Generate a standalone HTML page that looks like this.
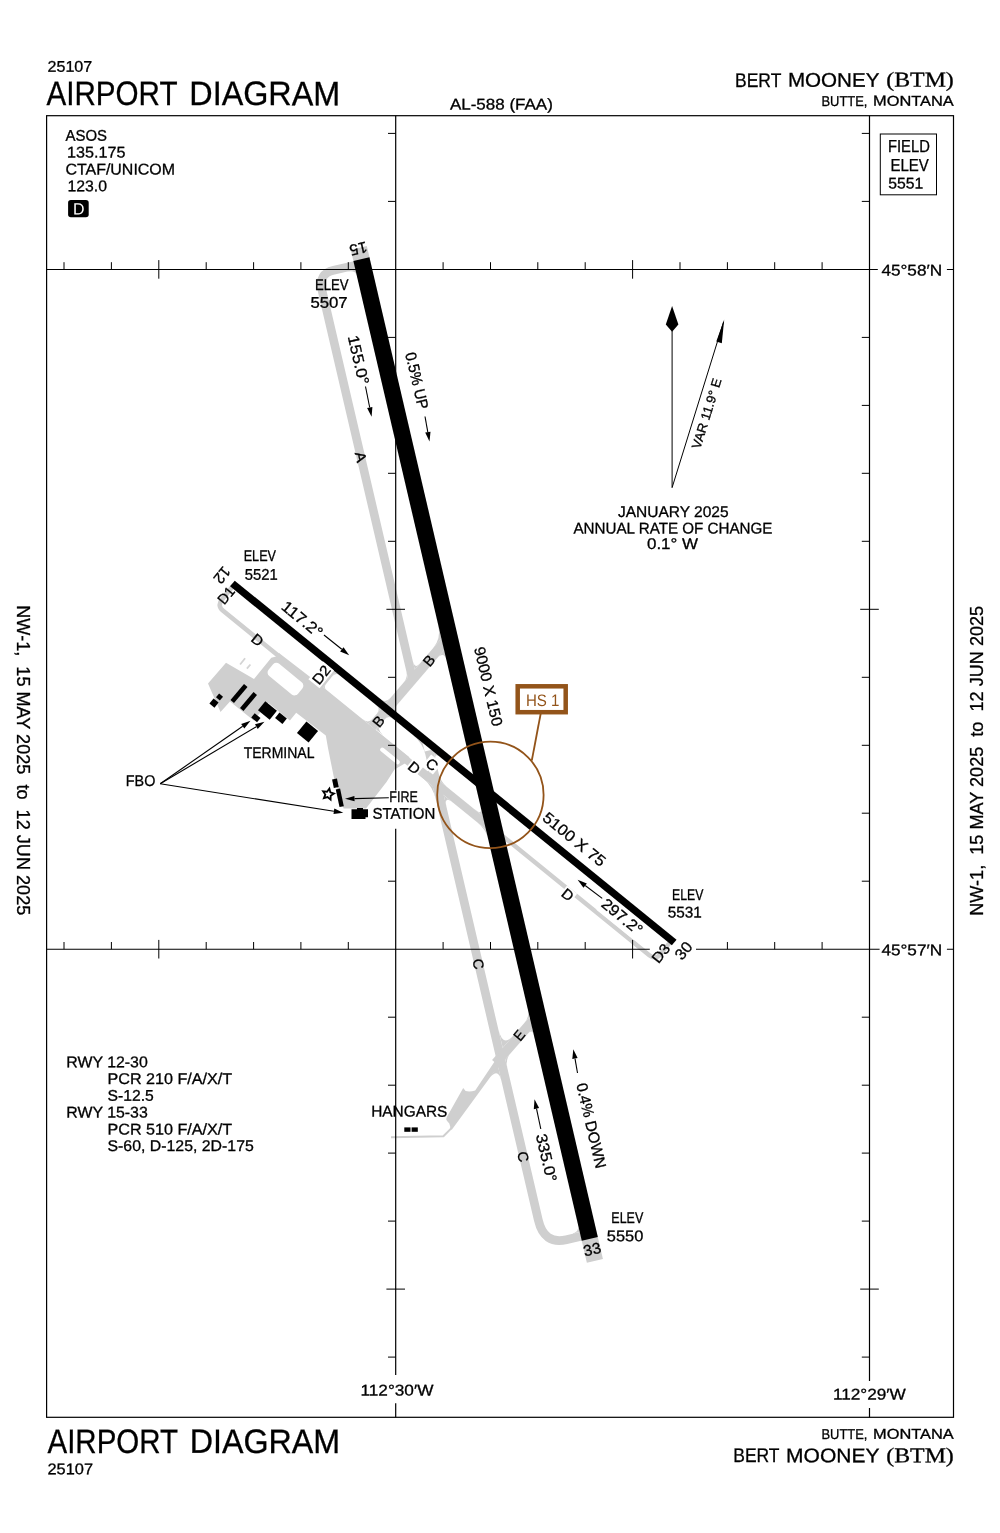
<!DOCTYPE html>
<html><head><meta charset="utf-8"><title>Airport Diagram - Bert Mooney (BTM)</title>
<style>html,body{margin:0;padding:0;background:#fff}svg{display:block;will-change:transform}svg text{font-family:"Liberation Sans",sans-serif}svg text.serif{font-family:"Liberation Serif",serif}</style></head>
<body>
<svg width="1000" height="1533" viewBox="0 0 1000 1533" >
<rect width="1000" height="1533" fill="#fff"/>
<g id="pavement" fill="none" stroke="#cfcfcf" stroke-linecap="butt" stroke-linejoin="round">
<path d="M358.8 247.9 L361.9 261.0" stroke-width="16.5"/>
<path d="M589.3 1236.9 L594.9 1260.9" stroke-width="16.5"/>
<path d="M362.4 263.6 L333.7 270.3 Q318.1 273.9 321.8 289.5 L412.8 679.9" stroke-width="8.6"/>
<path d="M428.9 750.6 L538.3 1220.0 Q544.1 1244.9 566.3 1239.7 L588.7 1234.5" stroke-width="8.7"/>
<path d="M444.8 641.9 L371.9 726.9" stroke-width="9.6"/>
<path d="M234.0 584.8 L222.0 599.5 Q216.9 605.7 223.1 610.8 L279.0 656.2" stroke-width="4.6"/>
<path d="M370.4 730.8 L428.6 778.1" stroke-width="7.4"/>
<path d="M418.8 769.5 L498.0 833.8" stroke-width="8.4"/>
<path d="M480.1 817.8 L649.3 955.2 Q655.5 960.3 660.5 954.1 L671.6 940.4" stroke-width="4.4"/>
<path d="M335.6 667.4 L318.0 689.1" stroke-width="6.0"/>
<path d="M532.5 1021.0 L495.7 1063.1" stroke-width="9.6"/>
</g>
<g id="pavefill" fill="#cfcfcf" stroke="none">
<polygon points="226.0,662.7 254.0,679.0 271.3,657.7 276.1,656.6 279.0,653.0 318.6,683.6 409.4,757.3 405.2,763.3 394.5,769.5 386.5,782.0 366.0,808.5 343.6,808.5 334.0,778.0 328.0,748.0 325.8,735.5 296.2,712.7 289.9,720.4 268.2,702.8 253.7,720.6 230.0,701.6 220.5,712.1 208.0,683.6"/>
<path d="M438.2 624.9 Q441.4 638.5 432.9 648.4 L441.4 638.5 Z"/>
<path d="M446.6 660.8 Q444.1 650.1 436.3 659.2 L444.1 650.1 Z"/>
<path d="M412.7 660.8 Q414.8 669.5 420.0 663.5 L414.8 669.5 Z"/>
<path d="M406.5 671.8 Q407.8 677.6 403.9 682.2 L407.8 677.6 Z"/>
<path d="M380.3 698.9 Q385.7 703.3 390.3 698.0 L385.7 703.3 Z"/>
<path d="M397.9 713.2 Q393.2 709.4 397.1 704.9 L393.2 709.4 Z"/>
<path d="M376.3 705.2 Q380.9 709.0 377.0 713.5 L380.9 709.0 Z"/>
<path d="M393.0 718.8 Q388.4 715.0 384.5 719.6 L388.4 715.0 Z"/>
<path d="M362.0 718.8 Q368.2 723.8 372.1 719.3 L368.2 723.8 Z"/>
<path d="M383.1 735.0 Q376.1 729.4 380.6 724.1 L376.1 729.4 Z"/>
<path d="M327.1 665.2 Q330.9 668.3 327.2 673.0 L330.9 668.3 Z"/>
<path d="M339.5 675.3 Q335.6 672.1 331.8 676.8 L335.6 672.1 Z"/>
<path d="M315.5 681.0 Q318.6 683.6 321.7 679.7 L318.6 683.6 Z"/>
<path d="M326.3 689.9 Q323.2 687.3 326.4 683.5 L323.2 687.3 Z"/>
<path d="M412.6 734.7 Q422.7 742.9 425.4 754.6 L422.7 742.9 Z"/>
<path d="M440.7 757.5 Q433.7 751.8 435.7 760.6 L433.7 751.8 Z"/>
<path d="M423.8 769.5 Q430.0 774.5 428.2 766.7 L430.0 774.5 Z"/>
<path d="M446.9 786.9 Q440.7 781.9 438.9 774.1 L440.7 781.9 Z"/>
<path d="M423.5 778.7 Q432.8 786.3 436.0 799.9 L432.8 786.3 Z"/>
<path d="M453.1 802.8 Q443.8 795.2 446.5 806.9 L443.8 795.2 Z"/>
<path d="M480.7 807.3 Q482.7 816.1 474.2 809.1 L482.7 816.1 Z"/>
<path d="M487.9 838.2 Q485.9 829.4 477.3 822.5 L485.9 829.4 Z"/>
<path d="M527.8 1009.2 Q529.6 1017.0 524.3 1023.1 L529.6 1017.0 Z"/>
<path d="M533.9 1035.4 Q532.3 1028.5 527.7 1033.8 L532.3 1028.5 Z"/>
<path d="M498.4 1029.3 Q502.7 1047.8 513.2 1035.8 L502.7 1047.8 Z"/>
<path d="M507.4 1068.1 Q505.4 1059.3 510.0 1054.0 L505.4 1059.3 Z"/>
<path d="M501.6 1081.6 Q498.0 1066.0 488.1 1079.9 L498.0 1066.0 Z"/>
<path d="M356.7 275.5 Q355.4 269.6 346.6 271.7 L355.4 269.6 Z"/>
<path d="M578.1 1225.3 Q579.7 1232.1 571.0 1234.1 L579.7 1232.1 Z"/>
<path d="M501 1052 L475.2 1090.4 Q470 1092 465.6 1091 L463.2 1088 L446.600 1117.600 Q445.700 1119.400 446.900 1120.700 L449.300 1123.500 L450.300 1127 L449.800 1128.800 L451.800 1129.800 L494 1072 L504 1062 Z"/>
</g>
<path d="M451 1128.6 L443.400 1136.200 L391 1137.200" stroke="#cfcfcf" stroke-width="2" fill="none" stroke-linejoin="round"/>
<g fill="#fff">
<rect x="275.7" y="661.0" width="38.0" height="15.8" rx="4.5" transform="rotate(39.10 275.7 661.0)"/>
<rect x="382.0" y="746.7" width="24.0" height="4.3" rx="2.1" transform="rotate(39.10 382.0 746.7)"/>
</g>
<path d="M240.1 664.5 L245.1 658.2 M246.9 668.7 L250.4 664.5" stroke="#d4d4d4" stroke-width="1.800" fill="none"/>
<g stroke="#000" fill="none">
<path d="M361.4 259.1 L589.8 1238.8" stroke-width="16.5"/>
<path d="M232.4 583.5 L674.2 942.5" stroke-width="7.4"/>
</g>
<g stroke="#000" stroke-width="1.2" fill="none">
<rect x="46.6" y="115.7" width="906.9" height="1301.6"/>
<path d="M395.7 115.7V790.4 M395.7 828.8V1375.0 M395.7 1403.2V1417.3"/>
<path d="M869.5 115.7V1381.0 M869.5 1408.0V1417.3"/>
<path stroke-width="1.05" d="M46.6 269.4H877.8 M946.9 269.4H953.5"/>
<path stroke-width="1.05" d="M46.6 949.2H649.8 M696.0 949.2H879.6 M946.9 949.2H953.5"/>
<path d="M64.0 262.2V269.4 M111.4 262.2V269.4 M158.8 260.1V278.7 M206.2 262.2V269.4 M253.6 262.2V269.4 M300.9 262.2V269.4 M348.3 262.2V269.4 M443.1 262.2V269.4 M490.5 262.2V269.4 M537.8 262.2V269.4 M585.2 262.2V269.4 M632.6 260.1V278.7 M680.0 262.2V269.4 M727.4 262.2V269.4 M774.7 262.2V269.4 M822.1 262.2V269.4 M64.0 942.0V949.2 M111.4 942.0V949.2 M158.8 939.9V958.5 M206.2 942.0V949.2 M253.6 942.0V949.2 M300.9 942.0V949.2 M348.3 942.0V949.2 M443.1 942.0V949.2 M490.5 942.0V949.2 M537.8 942.0V949.2 M585.2 942.0V949.2 M632.6 939.9V958.5 M727.4 942.0V949.2 M774.7 942.0V949.2 M822.1 942.0V949.2 M388.0 133.4H395.7 M388.0 201.4H395.7 M388.0 337.4H395.7 M388.0 405.4H395.7 M388.0 473.3H395.7 M388.0 541.3H395.7 M386.4 609.3H405.0 M388.0 677.3H395.7 M388.0 745.3H395.7 M388.0 881.2H395.7 M388.0 1017.2H395.7 M388.0 1085.2H395.7 M388.0 1153.1H395.7 M388.0 1221.1H395.7 M386.4 1289.1H405.0 M388.0 1357.1H395.7 M861.8 133.4H869.5 M861.8 201.4H869.5 M861.8 337.4H869.5 M861.8 405.4H869.5 M861.8 473.3H869.5 M861.8 541.3H869.5 M860.2 609.3H878.8 M861.8 677.3H869.5 M861.8 745.3H869.5 M861.8 813.2H869.5 M861.8 881.2H869.5 M861.8 1017.2H869.5 M861.8 1085.2H869.5 M861.8 1153.1H869.5 M861.8 1221.1H869.5 M860.2 1289.1H878.8 M861.8 1357.1H869.5 " stroke-width="1"/>
</g>
<g stroke="#93541a" fill="none">
<circle cx="490.4" cy="794.9" r="53.2" stroke-width="1.8"/>
<path d="M531.8 760.5 L540.8 713" stroke-width="1.8"/>
<rect x="517.700" y="686.300" width="48" height="25.900" stroke-width="4.500" fill="#fff"/>
</g>
<text x="525.9" y="706.2" font-size="16.6" fill="#93541a" transform="rotate(0.03 525.9 706.2)" textLength="33.5" lengthAdjust="spacingAndGlyphs">HS 1</text>
<g stroke="#000" stroke-width="1" fill="none">
<path d="M672.1 487.6 V326"/>
<path d="M672.1 487.6 L723.6 321.8"/>
</g>
<path d="M672.1 306 L678.4 324.5 L672.1 331.8 L665.8 324.5 Z" fill="#000"/>
<path d="M724.2 319.5 L721.8 343.2 L716.3 341.4 Z" fill="#000"/>
<path d="M365.5 386.5L369.7 407.5" stroke="#000" stroke-width="1.1" fill="none"/>
<path d="M371.6 416.8L367.1 408.0L372.4 407.0Z" fill="#000"/>
<path d="M425.0 416.5L427.8 432.2" stroke="#000" stroke-width="1.1" fill="none"/>
<path d="M429.5 441.5L425.2 432.6L430.5 431.7Z" fill="#000"/>
<path d="M324.0 635.0L341.8 649.3" stroke="#000" stroke-width="1.1" fill="none"/>
<path d="M349.2 655.3L340.1 651.4L343.5 647.2Z" fill="#000"/>
<path d="M602.2 898.4L585.2 885.5" stroke="#000" stroke-width="1.1" fill="none"/>
<path d="M577.6 879.8L586.8 883.4L583.5 887.7Z" fill="#000"/>
<path d="M540.8 1129.0L536.5 1108.6" stroke="#000" stroke-width="1.1" fill="none"/>
<path d="M534.5 1099.3L539.1 1108.0L533.8 1109.2Z" fill="#000"/>
<path d="M577.5 1073.0L575.0 1058.6" stroke="#000" stroke-width="1.1" fill="none"/>
<path d="M573.3 1049.2L577.6 1058.1L572.3 1059.0Z" fill="#000"/>
<path d="M160.2 783.8L242.7 726.2" stroke="#000" stroke-width="1.1" fill="none"/>
<path d="M250.5 720.8L244.3 728.5L241.2 724.0Z" fill="#000"/>
<path d="M160.2 783.8L256.3 726.7" stroke="#000" stroke-width="1.1" fill="none"/>
<path d="M264.5 721.8L257.7 729.0L255.0 724.3Z" fill="#000"/>
<path d="M160.2 783.8L333.9 811.3" stroke="#000" stroke-width="1.1" fill="none"/>
<path d="M343.3 812.8L333.5 814.0L334.3 808.6Z" fill="#000"/>
<path d="M388.8 797.8L354.5 798.6" stroke="#000" stroke-width="1.1" fill="none"/>
<path d="M345.0 798.8L354.4 795.9L354.6 801.3Z" fill="#000"/>
<g fill="#000">
<rect x="217.0" y="694.5" width="5.0" height="5.0" transform="rotate(39.10 219.5 697.0)"/>
<rect x="210.8" y="699.8" width="6.5" height="6.5" transform="rotate(39.10 214.0 703.0)"/>
<rect x="236.7" y="683.0" width="4.6" height="21.0" transform="rotate(40.10 239.0 693.5)"/>
<rect x="246.2" y="691.0" width="4.6" height="21.0" transform="rotate(40.10 248.5 701.5)"/>
<rect x="260.0" y="704.8" width="15.0" height="11.5" transform="rotate(39.10 267.5 710.5)"/>
<rect x="252.1" y="715.0" width="7.5" height="5.5" transform="rotate(39.10 255.8 717.8)"/>
<rect x="276.2" y="714.8" width="9.5" height="7.0" transform="rotate(39.10 281.0 718.3)"/>
<rect x="300.0" y="724.5" width="15.0" height="15.0" transform="rotate(39.10 307.5 732.0)"/>
<rect x="332.9" y="779.0" width="5.0" height="8.5" transform="rotate(-12.00 335.4 783.3)"/>
<rect x="337.6" y="788.8" width="4.4" height="18.0" transform="rotate(-12.00 339.8 797.8)"/>
<path d="M351.5 809.3h5.5v-1.3h6v1.3h5v8h-2.500v1.800h-14z"/>
<rect x="404.300" y="1127.400" width="6.200" height="4.400"/><rect x="411.600" y="1127.400" width="6.200" height="4.400"/>
</g>
<polygon points="329.4,788.6 330.3,792.3 334.0,793.6 330.7,795.7 330.6,799.6 327.6,797.1 323.9,798.2 325.3,794.6 323.1,791.4 327.0,791.7" fill="#fff" stroke="#000" stroke-width="1.8"/>
<text x="47.5" y="71.8" font-size="15.5" fill="#000" transform="rotate(0.03 47.5 71.8)" textLength="44.7" lengthAdjust="spacingAndGlyphs" stroke="#000" stroke-width="0.3">25107</text>
<text y="105.0" font-size="33.9" fill="#000" stroke="#000" stroke-width="0.3" transform="rotate(0.03 47.0 105.0)"><tspan x="46.5" textLength="130.5" lengthAdjust="spacingAndGlyphs">AIRPORT</tspan> <tspan x="189.3" textLength="150.9" lengthAdjust="spacingAndGlyphs">DIAGRAM</tspan></text>
<text x="449.9" y="109.4" font-size="15.5" fill="#000" transform="rotate(0.03 449.9 109.4)" textLength="102.9" lengthAdjust="spacingAndGlyphs" stroke="#000" stroke-width="0.3">AL-588 (FAA)</text>
<text y="86.6" font-size="19.8" fill="#000" stroke="#000" stroke-width="0.3" transform="rotate(0.03 735.6 86.6)"><tspan x="735.1" textLength="45.9" lengthAdjust="spacingAndGlyphs">BERT</tspan> <tspan x="787.9" textLength="91.5" lengthAdjust="spacingAndGlyphs">MOONEY</tspan></text>
<text x="886.3" y="86.6" font-size="21.0" fill="#000" transform="rotate(0.03 886.3 86.6)" textLength="67.5" lengthAdjust="spacingAndGlyphs" class="serif" stroke="#000" stroke-width="0.3">(BTM)</text>
<text y="105.6" font-size="14.2" fill="#000" stroke="#000" stroke-width="0.3" transform="rotate(0.03 822.0 105.6)"><tspan x="821.5" textLength="45.9" lengthAdjust="spacingAndGlyphs">BUTTE,</tspan> <tspan x="873.1" textLength="80.7" lengthAdjust="spacingAndGlyphs">MONTANA</tspan></text>
<text x="65.5" y="140.8" font-size="15.5" fill="#000" transform="rotate(0.03 65.5 140.8)" textLength="41.5" lengthAdjust="spacingAndGlyphs" stroke="#000" stroke-width="0.3">ASOS</text>
<text x="67.0" y="157.6" font-size="15.5" fill="#000" transform="rotate(0.03 67.0 157.6)" textLength="58.4" lengthAdjust="spacingAndGlyphs" stroke="#000" stroke-width="0.3">135.175</text>
<text x="65.5" y="174.4" font-size="15.5" fill="#000" transform="rotate(0.03 65.5 174.4)" textLength="109.5" lengthAdjust="spacingAndGlyphs" stroke="#000" stroke-width="0.3">CTAF/UNICOM</text>
<text x="67.5" y="191.2" font-size="15.5" fill="#000" transform="rotate(0.03 67.5 191.2)" textLength="39.5" lengthAdjust="spacingAndGlyphs" stroke="#000" stroke-width="0.3">123.0</text>
<rect x="68.1" y="200" width="20.6" height="17.3" rx="2.8" fill="#000"/>
<text x="73.1" y="214.6" font-size="16.4" fill="#fff" transform="rotate(0.03 73.1 214.6)" textLength="11.5" lengthAdjust="spacingAndGlyphs">D</text>
<rect x="880.3" y="134" width="56.2" height="60.8" fill="#fff" stroke="#000" stroke-width="1"/>
<text x="888.0" y="151.9" font-size="17.4" fill="#000" transform="rotate(0.03 888.0 151.9)" textLength="41.8" lengthAdjust="spacingAndGlyphs" stroke="#000" stroke-width="0.3">FIELD</text>
<text x="890.4" y="170.8" font-size="17.4" fill="#000" transform="rotate(0.03 890.4 170.8)" textLength="38.3" lengthAdjust="spacingAndGlyphs" stroke="#000" stroke-width="0.3">ELEV</text>
<text x="888.3" y="188.4" font-size="15.5" fill="#000" transform="rotate(0.03 888.3 188.4)" textLength="35.1" lengthAdjust="spacingAndGlyphs" stroke="#000" stroke-width="0.3">5551</text>
<text x="881.4" y="275.6" font-size="15.5" fill="#000" transform="rotate(0.03 881.4 275.6)" textLength="60.7" lengthAdjust="spacingAndGlyphs" stroke="#000" stroke-width="0.3">45°58′N</text>
<text x="881.4" y="955.3" font-size="15.5" fill="#000" transform="rotate(0.03 881.4 955.3)" textLength="60.7" lengthAdjust="spacingAndGlyphs" stroke="#000" stroke-width="0.3">45°57′N</text>
<text x="360.5" y="1395.4" font-size="15.5" fill="#000" transform="rotate(0.03 360.5 1395.4)" textLength="72.9" lengthAdjust="spacingAndGlyphs" stroke="#000" stroke-width="0.3">112°30′W</text>
<text x="832.9" y="1399.4" font-size="15.5" fill="#000" transform="rotate(0.03 832.9 1399.4)" textLength="72.9" lengthAdjust="spacingAndGlyphs" stroke="#000" stroke-width="0.3">112°29′W</text>
<text x="16.6" y="605.3" font-size="18.1" fill="#000" transform="rotate(90.00 16.6 605.3)" textLength="310.0" lengthAdjust="spacingAndGlyphs" stroke="#000" stroke-width="0.3">NW-1,&#160; 15 MAY 2025&#160; to&#160; 12 JUN 2025</text>
<text x="983.3" y="915.8" font-size="18.1" fill="#000" transform="rotate(-90.00 983.3 915.8)" textLength="310.0" lengthAdjust="spacingAndGlyphs" stroke="#000" stroke-width="0.3">NW-1,&#160; 15 MAY 2025&#160; to&#160; 12 JUN 2025</text>
<text y="1452.8" font-size="33.9" fill="#000" stroke="#000" stroke-width="0.3" transform="rotate(0.03 48.0 1452.8)"><tspan x="47.5" textLength="130.0" lengthAdjust="spacingAndGlyphs">AIRPORT</tspan> <tspan x="189.8" textLength="150.4" lengthAdjust="spacingAndGlyphs">DIAGRAM</tspan></text>
<text x="47.5" y="1474.2" font-size="15.5" fill="#000" transform="rotate(0.03 47.5 1474.2)" textLength="45.5" lengthAdjust="spacingAndGlyphs" stroke="#000" stroke-width="0.3">25107</text>
<text y="1438.8" font-size="14.2" fill="#000" stroke="#000" stroke-width="0.3" transform="rotate(0.03 822.0 1438.8)"><tspan x="821.5" textLength="45.9" lengthAdjust="spacingAndGlyphs">BUTTE,</tspan> <tspan x="873.1" textLength="80.7" lengthAdjust="spacingAndGlyphs">MONTANA</tspan></text>
<text y="1462.2" font-size="19.8" fill="#000" stroke="#000" stroke-width="0.3" transform="rotate(0.03 733.8 1462.2)"><tspan x="733.3" textLength="45.9" lengthAdjust="spacingAndGlyphs">BERT</tspan> <tspan x="786.1" textLength="93.3" lengthAdjust="spacingAndGlyphs">MOONEY</tspan></text>
<text x="886.3" y="1462.2" font-size="21.0" fill="#000" transform="rotate(0.03 886.3 1462.2)" textLength="67.5" lengthAdjust="spacingAndGlyphs" class="serif" stroke="#000" stroke-width="0.3">(BTM)</text>
<text x="314.9" y="289.8" font-size="15.5" fill="#000" transform="rotate(0.03 314.9 289.8)" textLength="33.6" lengthAdjust="spacingAndGlyphs" stroke="#000" stroke-width="0.3">ELEV</text>
<text x="310.4" y="307.8" font-size="15.5" fill="#000" transform="rotate(0.03 310.4 307.8)" textLength="37.2" lengthAdjust="spacingAndGlyphs" stroke="#000" stroke-width="0.3">5507</text>
<text x="243.7" y="561.3" font-size="15.5" fill="#000" transform="rotate(0.03 243.7 561.3)" textLength="32.3" lengthAdjust="spacingAndGlyphs" stroke="#000" stroke-width="0.3">ELEV</text>
<text x="244.8" y="579.8" font-size="15.5" fill="#000" transform="rotate(0.03 244.8 579.8)" textLength="33.0" lengthAdjust="spacingAndGlyphs" stroke="#000" stroke-width="0.3">5521</text>
<text x="672.1" y="899.8" font-size="15.5" fill="#000" transform="rotate(0.03 672.1 899.8)" textLength="31.3" lengthAdjust="spacingAndGlyphs" stroke="#000" stroke-width="0.3">ELEV</text>
<text x="667.7" y="917.6" font-size="15.5" fill="#000" transform="rotate(0.03 667.7 917.6)" textLength="34.1" lengthAdjust="spacingAndGlyphs" stroke="#000" stroke-width="0.3">5531</text>
<text x="611.3" y="1222.6" font-size="15.5" fill="#000" transform="rotate(0.03 611.3 1222.6)" textLength="32.0" lengthAdjust="spacingAndGlyphs" stroke="#000" stroke-width="0.3">ELEV</text>
<text x="606.8" y="1241.3" font-size="15.5" fill="#000" transform="rotate(0.03 606.8 1241.3)" textLength="36.5" lengthAdjust="spacingAndGlyphs" stroke="#000" stroke-width="0.3">5550</text>
<text x="617.9" y="517.0" font-size="15.5" fill="#000" transform="rotate(0.03 617.9 517.0)" textLength="110.7" lengthAdjust="spacingAndGlyphs" stroke="#000" stroke-width="0.3">JANUARY 2025</text>
<text x="573.5" y="533.4" font-size="15.5" fill="#000" transform="rotate(0.03 573.5 533.4)" textLength="198.9" lengthAdjust="spacingAndGlyphs" stroke="#000" stroke-width="0.3">ANNUAL RATE OF CHANGE</text>
<text x="647.0" y="549.1" font-size="15.5" fill="#000" transform="rotate(0.03 647.0 549.1)" textLength="51.0" lengthAdjust="spacingAndGlyphs" stroke="#000" stroke-width="0.3">0.1° W</text>
<text x="710.9" y="414.9" font-size="13.0" fill="#000" text-anchor="middle" transform="rotate(-72.75 710.9 414.9)" textLength="73.0" lengthAdjust="spacingAndGlyphs" stroke="#000" stroke-width="0.3">VAR 11.9° E</text>
<text x="243.7" y="758.0" font-size="15.5" fill="#000" transform="rotate(0.03 243.7 758.0)" textLength="70.8" lengthAdjust="spacingAndGlyphs" stroke="#000" stroke-width="0.3">TERMINAL</text>
<text x="125.8" y="786.0" font-size="15.5" fill="#000" transform="rotate(0.03 125.8 786.0)" textLength="29.5" lengthAdjust="spacingAndGlyphs" stroke="#000" stroke-width="0.3">FBO</text>
<text x="389.3" y="802.2" font-size="15.5" fill="#000" transform="rotate(0.03 389.3 802.2)" textLength="28.5" lengthAdjust="spacingAndGlyphs" stroke="#000" stroke-width="0.3">FIRE</text>
<text x="372.5" y="818.8" font-size="15.5" fill="#000" transform="rotate(0.03 372.5 818.8)" textLength="62.8" lengthAdjust="spacingAndGlyphs" stroke="#000" stroke-width="0.3">STATION</text>
<text x="371.2" y="1116.6" font-size="15.5" fill="#000" transform="rotate(0.03 371.2 1116.6)" textLength="76.1" lengthAdjust="spacingAndGlyphs" stroke="#000" stroke-width="0.3">HANGARS</text>
<text x="66.3" y="1067.2" font-size="15.5" fill="#000" transform="rotate(0.03 66.3 1067.2)" textLength="81.5" lengthAdjust="spacingAndGlyphs" stroke="#000" stroke-width="0.3">RWY 12-30</text>
<text x="107.5" y="1084.0" font-size="15.5" fill="#000" transform="rotate(0.03 107.5 1084.0)" textLength="124.7" lengthAdjust="spacingAndGlyphs" stroke="#000" stroke-width="0.3">PCR 210 F/A/X/T</text>
<text x="107.5" y="1100.8" font-size="15.5" fill="#000" transform="rotate(0.03 107.5 1100.8)" textLength="46.3" lengthAdjust="spacingAndGlyphs" stroke="#000" stroke-width="0.3">S-12.5</text>
<text x="66.3" y="1117.4" font-size="15.5" fill="#000" transform="rotate(0.03 66.3 1117.4)" textLength="81.5" lengthAdjust="spacingAndGlyphs" stroke="#000" stroke-width="0.3">RWY 15-33</text>
<text x="107.5" y="1134.4" font-size="15.5" fill="#000" transform="rotate(0.03 107.5 1134.4)" textLength="124.7" lengthAdjust="spacingAndGlyphs" stroke="#000" stroke-width="0.3">PCR 510 F/A/X/T</text>
<text x="107.5" y="1151.0" font-size="15.5" fill="#000" transform="rotate(0.03 107.5 1151.0)" textLength="146.3" lengthAdjust="spacingAndGlyphs" stroke="#000" stroke-width="0.3">S-60, D-125, 2D-175</text>
<text x="353.3" y="361.1" font-size="15.5" fill="#000" text-anchor="middle" transform="rotate(76.88 353.3 361.1)" textLength="50.0" lengthAdjust="spacingAndGlyphs" stroke="#000" stroke-width="0.3">155.0°</text>
<text x="411.7" y="381.9" font-size="15.5" fill="#000" text-anchor="middle" transform="rotate(76.88 411.7 381.9)" textLength="58.0" lengthAdjust="spacingAndGlyphs" stroke="#000" stroke-width="0.3">0.5% UP</text>
<text x="355.9" y="458.1" font-size="14.5" fill="#000" text-anchor="middle" transform="rotate(76.88 355.9 458.1)" textLength="10.5" lengthAdjust="spacingAndGlyphs" stroke="#000" stroke-width="0.3">A</text>
<text x="483.2" y="687.6" font-size="15.5" fill="#000" text-anchor="middle" transform="rotate(76.88 483.2 687.6)" textLength="81.0" lengthAdjust="spacingAndGlyphs" stroke="#000" stroke-width="0.3">9000 X 150</text>
<text x="473.4" y="965.1" font-size="14.5" fill="#000" text-anchor="middle" transform="rotate(76.88 473.4 965.1)" textLength="10.5" lengthAdjust="spacingAndGlyphs" stroke="#000" stroke-width="0.3">C</text>
<text x="518.3" y="1157.9" font-size="14.5" fill="#000" text-anchor="middle" transform="rotate(76.88 518.3 1157.9)" textLength="10.5" lengthAdjust="spacingAndGlyphs" stroke="#000" stroke-width="0.3">C</text>
<text x="541.3" y="1159.0" font-size="15.5" fill="#000" text-anchor="middle" transform="rotate(76.88 541.3 1159.0)" textLength="49.0" lengthAdjust="spacingAndGlyphs" stroke="#000" stroke-width="0.3">335.0°</text>
<text x="586.1" y="1126.8" font-size="15.5" fill="#000" text-anchor="middle" transform="rotate(76.88 586.1 1126.8)" textLength="87.0" lengthAdjust="spacingAndGlyphs" stroke="#000" stroke-width="0.3">0.4% DOWN</text>
<text x="357.1" y="243.4" font-size="15.5" fill="#000" text-anchor="middle" transform="rotate(166.88 357.1 243.4)" textLength="17.5" lengthAdjust="spacingAndGlyphs" stroke="#000" stroke-width="0.3">15</text>
<text x="593.4" y="1254.5" font-size="15.5" fill="#000" text-anchor="middle" transform="rotate(-13.12 593.4 1254.5)" textLength="17.5" lengthAdjust="spacingAndGlyphs" stroke="#000" stroke-width="0.3">33</text>
<text x="298.8" y="623.4" font-size="15.5" fill="#000" text-anchor="middle" transform="rotate(39.10 298.8 623.4)" textLength="48.0" lengthAdjust="spacingAndGlyphs" stroke="#000" stroke-width="0.3">117.2°</text>
<text x="570.9" y="843.4" font-size="15.5" fill="#000" text-anchor="middle" transform="rotate(39.10 570.9 843.4)" textLength="76.0" lengthAdjust="spacingAndGlyphs" stroke="#000" stroke-width="0.3">5100 X 75</text>
<rect x="597.8" y="910.0" width="49.0" height="17.6" fill="#fff" transform="rotate(39.10 622.3 916.6)"/>
<text x="618.8" y="920.9" font-size="15.5" fill="#000" text-anchor="middle" transform="rotate(39.10 618.8 920.9)" textLength="48.0" lengthAdjust="spacingAndGlyphs" stroke="#000" stroke-width="0.3">297.2°</text>
<text x="254.2" y="643.9" font-size="14.5" fill="#000" text-anchor="middle" transform="rotate(39.10 254.2 643.9)" textLength="11.0" lengthAdjust="spacingAndGlyphs" stroke="#000" stroke-width="0.3">D</text>
<rect x="561.4" y="888.1" width="13.0" height="13.4" fill="#fff" transform="rotate(39.10 567.9 894.8)"/>
<text x="564.6" y="898.8" font-size="14.5" fill="#000" text-anchor="middle" transform="rotate(39.10 564.6 898.8)" textLength="11.0" lengthAdjust="spacingAndGlyphs" stroke="#000" stroke-width="0.3">D</text>
<rect x="407.9" y="761.0" width="13.0" height="13.4" fill="#fff" transform="rotate(39.10 414.4 767.7)"/>
<text x="411.1" y="771.7" font-size="14.5" fill="#000" text-anchor="middle" transform="rotate(39.10 411.1 771.7)" textLength="11.0" lengthAdjust="spacingAndGlyphs" stroke="#000" stroke-width="0.3">D</text>
<rect x="425.0" y="757.4" width="14.0" height="14.4" fill="#fff" transform="rotate(39.10 432.0 764.6)"/>
<text x="428.7" y="768.6" font-size="14.5" fill="#000" text-anchor="middle" transform="rotate(39.10 428.7 768.6)" textLength="11.0" lengthAdjust="spacingAndGlyphs" stroke="#000" stroke-width="0.3">C</text>
<text x="230.0" y="598.6" font-size="14.5" fill="#000" text-anchor="middle" transform="rotate(-50.90 230.0 598.6)" textLength="18.0" lengthAdjust="spacingAndGlyphs" stroke="#000" stroke-width="0.3">D1</text>
<rect x="309.7" y="667.6" width="23.0" height="14.4" fill="#fff" transform="rotate(-50.90 321.2 674.8)"/>
<text x="325.2" y="678.1" font-size="14.5" fill="#000" text-anchor="middle" transform="rotate(-50.90 325.2 678.1)" textLength="20.0" lengthAdjust="spacingAndGlyphs" stroke="#000" stroke-width="0.3">D2</text>
<text x="664.8" y="956.6" font-size="14.5" fill="#000" text-anchor="middle" transform="rotate(-50.90 664.8 956.6)" textLength="20.0" lengthAdjust="spacingAndGlyphs" stroke="#000" stroke-width="0.3">D3</text>
<text x="382.3" y="724.7" font-size="14.5" fill="#000" text-anchor="middle" transform="rotate(-50.90 382.3 724.7)" textLength="10.0" lengthAdjust="spacingAndGlyphs" stroke="#000" stroke-width="0.3">B</text>
<text x="432.8" y="663.9" font-size="14.5" fill="#000" text-anchor="middle" transform="rotate(-50.90 432.8 663.9)" textLength="10.0" lengthAdjust="spacingAndGlyphs" stroke="#000" stroke-width="0.3">B</text>
<text x="687.8" y="953.9" font-size="15.5" fill="#000" text-anchor="middle" transform="rotate(-50.90 687.8 953.9)" textLength="18.0" lengthAdjust="spacingAndGlyphs" stroke="#000" stroke-width="0.3">30</text>
<text x="218.0" y="571.8" font-size="15.5" fill="#000" text-anchor="middle" transform="rotate(129.10 218.0 571.8)" textLength="17.0" lengthAdjust="spacingAndGlyphs" stroke="#000" stroke-width="0.3">12</text>
<text x="523.0" y="1038.5" font-size="14.5" fill="#000" text-anchor="middle" transform="rotate(-50.90 523.0 1038.5)" textLength="9.0" lengthAdjust="spacingAndGlyphs" stroke="#000" stroke-width="0.3">E</text>
</svg>
</body></html>
